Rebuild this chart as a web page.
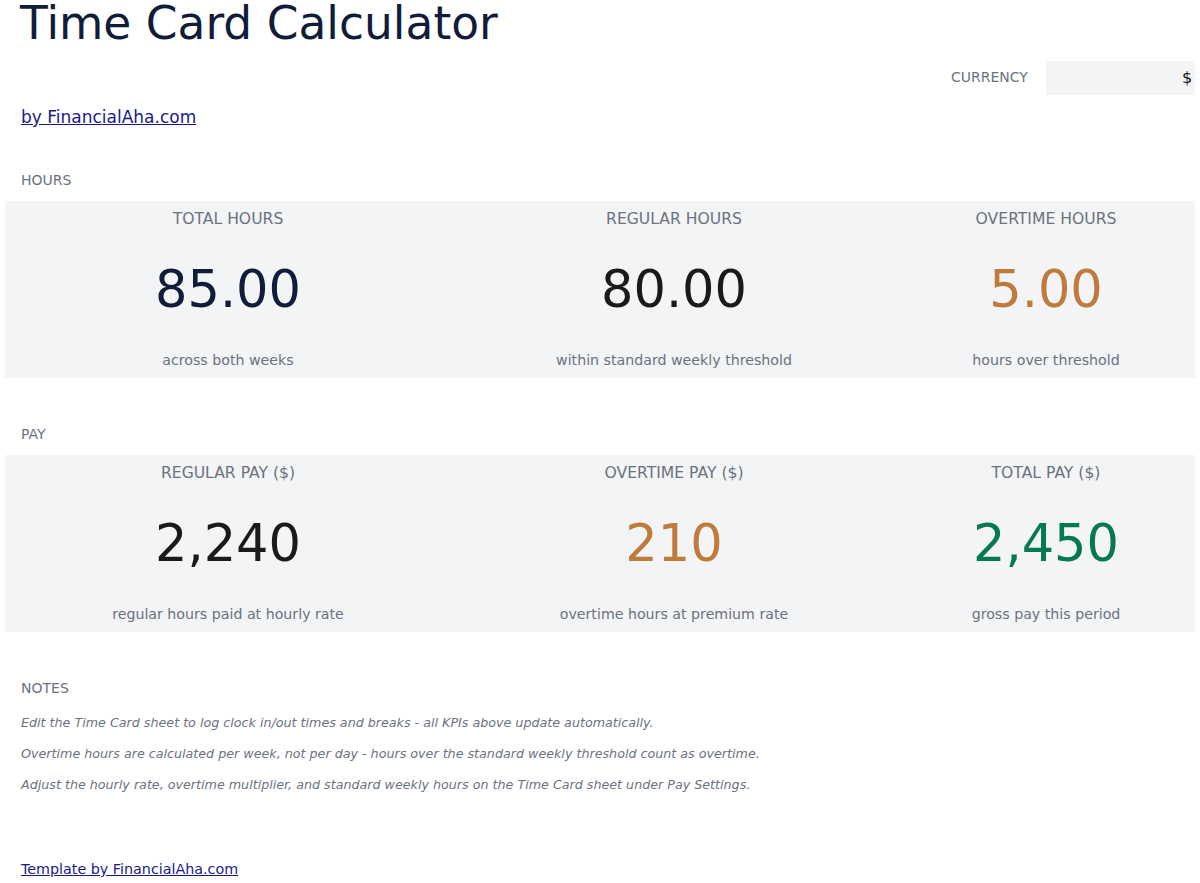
<!DOCTYPE html>
<html><head><meta charset="utf-8">
<script src="https://cdn.jsdelivr.net/npm/chart.js@4"></script>
<style>
body{margin:0;width:1200px;height:883px;background:#fff;font-family:"DejaVu Sans",sans-serif;position:relative;overflow:hidden}
.a{position:absolute;white-space:nowrap}
.sec{font-size:14px;color:#6b7280;left:21px}
.band{position:absolute;left:5px;width:1190px;height:177px;background:#f3f4f6}
.cell{position:absolute;top:0;height:177px;text-align:center}
.lab{position:absolute;width:100%;top:9px;font-size:15.6px;color:#6b7280}
.val{position:absolute;width:100%;top:59px;font-size:51px}
.sub{position:absolute;width:100%;top:151px;font-size:14.2px;color:#6b7280}
.note{font-size:12.7px;color:#6b7280;font-style:italic;left:21px}
a{color:#1a1a8a}
</style></head><body>
<div class="a" style="left:20px;top:0px;font-size:45.5px;line-height:48px;color:#111c3a">Time Card Calculator</div>
<div class="a" style="left:951px;top:69px;font-size:14px;color:#6b7280">CURRENCY</div>
<div class="a" style="left:1046px;top:61px;width:149px;height:34px;background:#f3f4f6"></div>
<div class="a" style="left:1182px;top:68px;font-size:16px;color:#111">$</div>
<div class="a" style="left:21px;top:107px;font-size:17px"><a href="#">by FinancialAha.com</a></div>
<div class="a sec" style="top:172px">HOURS</div>
<div class="band" id="b0" style="top:201px"></div>
<div class="a sec" style="top:426px">PAY</div>
<div class="band" id="b1" style="top:455px"></div>
<div class="a sec" style="top:680px">NOTES</div>
<div id="notes"></div>
<div class="a" style="left:21px;top:861px;font-size:14.3px"><a href="#">Template by FinancialAha.com</a></div>
<script>
const hourLabels=["TOTAL HOURS","REGULAR HOURS","OVERTIME HOURS"];
const hourValues=["85.00","80.00","5.00"];
const hourSubs=["across both weeks","within standard weekly threshold","hours over threshold"];
const payLabels=["REGULAR PAY ($)","OVERTIME PAY ($)","TOTAL PAY ($)"];
const payValues=["2,240","210","2,450"];
const paySubs=["regular hours paid at hourly rate","overtime hours at premium rate","gross pay this period"];
const notes=["Edit the Time Card sheet to log clock in/out times and breaks - all KPIs above update automatically.",
"Overtime hours are calculated per week, not per day - hours over the standard weekly threshold count as overtime.",
"Adjust the hourly rate, overtime multiplier, and standard weekly hours on the Time Card sheet under Pay Settings."];
const hourColors=["#111c3a","#1a1a1a","#c07a3a"];
const payColors=["#1a1a1a","#c07a3a","#057a4e"];
const cols=[[0,446],[446,446],[892,298]];
function fill(id,L,V,S,C){const b=document.getElementById(id);
 cols.forEach((c,i)=>{const d=document.createElement('div');d.className='cell';d.style.left=c[0]+'px';d.style.width=c[1]+'px';
 d.innerHTML=`<div class="lab">${L[i]}</div><div class="val" style="color:${C[i]}">${V[i]}</div><div class="sub">${S[i]}</div>`;b.appendChild(d);});}
fill('b0',hourLabels,hourValues,hourSubs,hourColors);
fill('b1',payLabels,payValues,paySubs,payColors);
const n=document.getElementById('notes');
notes.forEach((t,i)=>{const d=document.createElement('div');d.className='a note';d.style.top=(715+i*31)+'px';d.textContent=t;n.appendChild(d);});
</script>
</body></html>
